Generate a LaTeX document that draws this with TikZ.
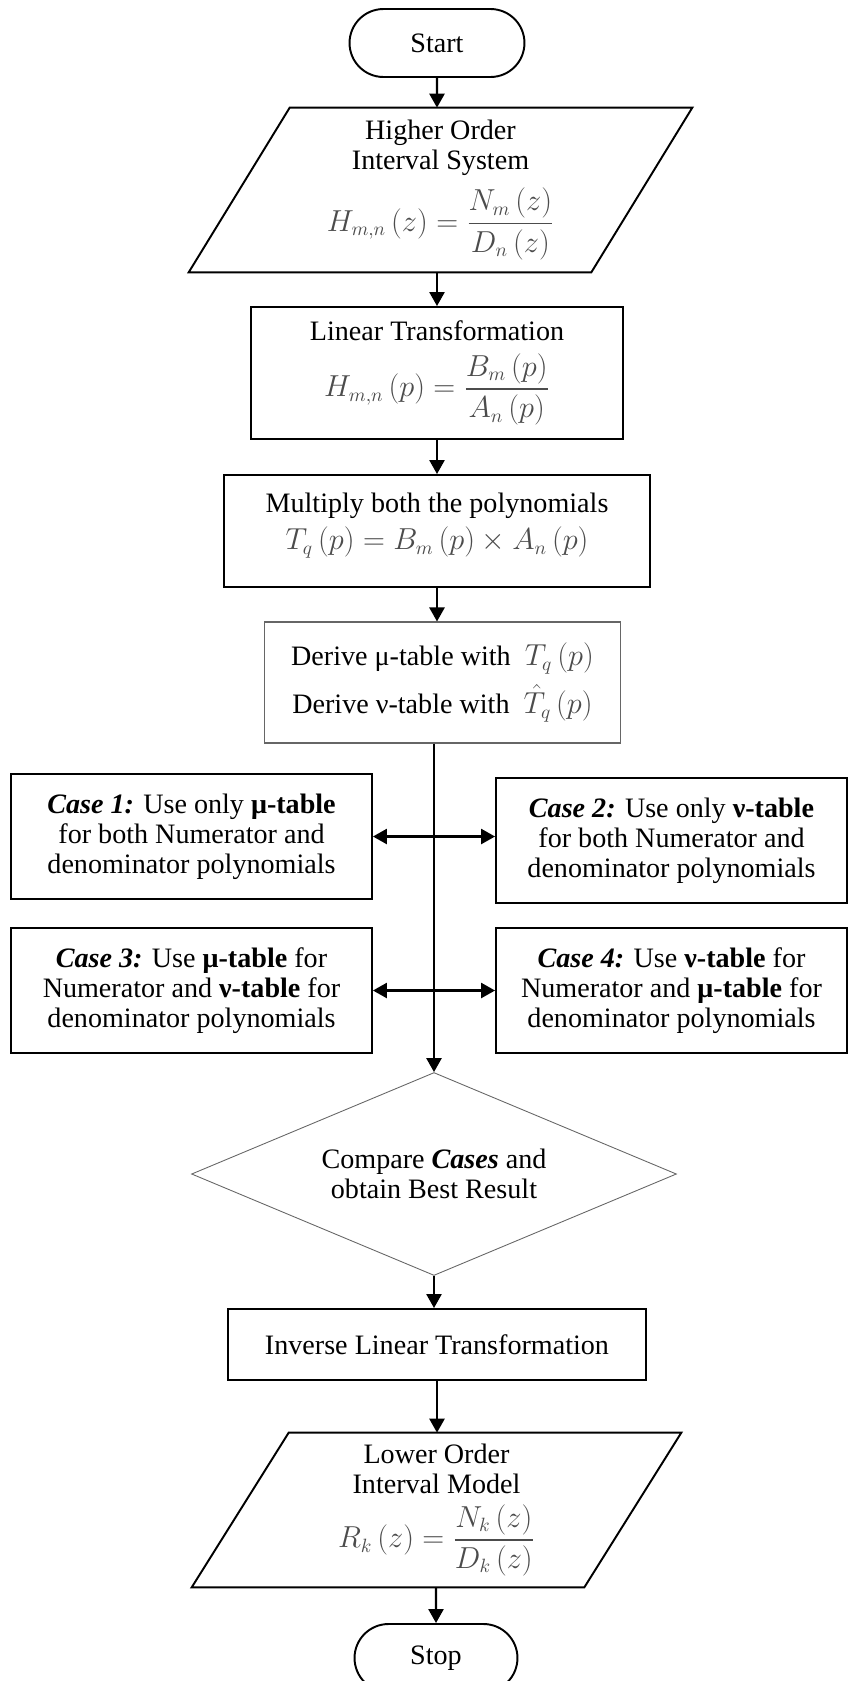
\documentclass[tikz,border=0pt]{standalone}
\usepackage{amsmath}
\usepackage{fontspec}
\setmainfont{Liberation Serif}
\usetikzlibrary{shapes.geometric,shapes.misc,arrows.meta}
\newcommand{\fm}[1]{\textcolor{black!70}{$\displaystyle #1$}}

\begin{document}
\begin{tikzpicture}[x=0.02cm,y=-0.02cm,
        every node/.style={font=\fontsize{16}{17}\selectfont,align=center,inner sep=2pt},
        term/.style={rounded rectangle,draw,line width=1.1pt,minimum width=3.64cm,minimum height=1.36cm},
        box/.style={rectangle,draw,line width=1.1pt},
        arr/.style={-{Triangle[length=0.28cm,width=0.3cm]},line width=1.4pt},
        dbl/.style={{Triangle[length=0.28cm,width=0.3cm]}-{Triangle[length=0.28cm,width=0.3cm]},line width=1.4pt}]
        \useasboundingbox (0,0) rectangle (848,1681);

        \node [term] (s) at (437,43) {Start};
        \node [minimum width=6.02cm,minimum height=3.28cm] (h) at (440.5,190)
          {Higher Order\\ Interval System\\[6pt] \fm{H_{m,n}\left(z\right)=\dfrac{N_m\left(z\right)}{D_n\left(z\right)}}};
        \draw [line width=1.1pt] (h.north west) -- ([xshift=2.02cm]h.north east) -- (h.south east)
          -- ([xshift=-2.02cm]h.south west) -- cycle;
        \node [box,minimum width=7.44cm,minimum height=2.64cm] (l) at (437,373)
          {Linear Transformation\\[6pt] \fm{H_{m,n}\left(p\right)=\dfrac{B_m\left(p\right)}{A_n\left(p\right)}}};
        \node [box,minimum width=8.52cm,minimum height=2.24cm] (m) at (437,531)
          {Multiply both the polynomials\\[4pt] \fm{T_q\left(p\right)=B_m\left(p\right)\times A_n\left(p\right)}\\[-6pt] \mbox{}};
        \node [box,draw=black!60,line width=0.6pt,minimum width=7.14cm,minimum height=2.42cm] (d) at (442.5,682.5)
          {Derive μ-table with \ \fm{T_q\left(p\right)}\\[5pt] Derive ν-table with \ \fm{\hat{T}_q\left(p\right)}};

        \node [box,minimum width=7.22cm,minimum height=2.5cm] (c1) at (191.5,836.5)
          {{\bfseries\itshape Case 1:} Use only \textbf{μ-table}\\ for both Numerator and\\ denominator polynomials};
        \node [box,minimum width=7.02cm,minimum height=2.5cm] (c2) at (671.5,840.5)
          {{\bfseries\itshape Case 2:} Use only \textbf{ν-table}\\ for both Numerator and\\ denominator polynomials};
        \node [box,minimum width=7.22cm,minimum height=2.5cm] (c3) at (191.5,990.5)
          {{\bfseries\itshape Case 3:} Use \textbf{μ-table} for\\ Numerator and \textbf{ν-table} for\\ denominator polynomials};
        \node [box,minimum width=7.02cm,minimum height=2.5cm] (c4) at (671.5,990.5)
          {{\bfseries\itshape Case 4:} Use \textbf{ν-table} for\\ Numerator and \textbf{μ-table} for\\ denominator polynomials};

        \node [diamond,aspect=2.4,draw=black!60,line width=0.5pt,inner sep=0pt,minimum width=9.7cm,minimum height=4.06cm] (f) at (434,1174)
          {\fontsize{16}{19}\selectfont Compare {\bfseries\itshape Cases} and\\ obtain Best Result};
        \node [box,minimum width=8.36cm,minimum height=1.42cm] (i) at (437,1344.5) {Inverse Linear Transformation};
        \node [minimum width=5.9cm,minimum height=3.08cm] (o) at (436.5,1510)
          {Lower Order\\ Interval Model\\[5pt] \fm{R_k\left(z\right)=\dfrac{N_k\left(z\right)}{D_k\left(z\right)}}};
        \draw [line width=1.1pt] (o.north west) -- ([xshift=1.94cm]o.north east) -- (o.south east)
          -- ([xshift=-1.94cm]o.south west) -- cycle;
        \node [term,minimum width=3.4cm] (e) at (436,1658) {Stop};

        \draw [arr] (s) -- (s |- h.north);
        \draw [arr] (h.south -| l) -- (l);
        \draw [arr] (l) -- (m);
        \draw [arr] (m) -- (m |- d.north);
        \draw [arr] (d.south -| f) -- (f);
        \draw [dbl] (c1) -- (c1 -| c2.west);
        \draw [dbl] (c3) -- (c4);
        \draw [arr] (f.south) -- (f.south |- i.north);
        \draw [arr] (i) -- (i |- o.north);
        \draw [arr] (o.south -| e) -- (e);
    \end{tikzpicture}
\end{document}
